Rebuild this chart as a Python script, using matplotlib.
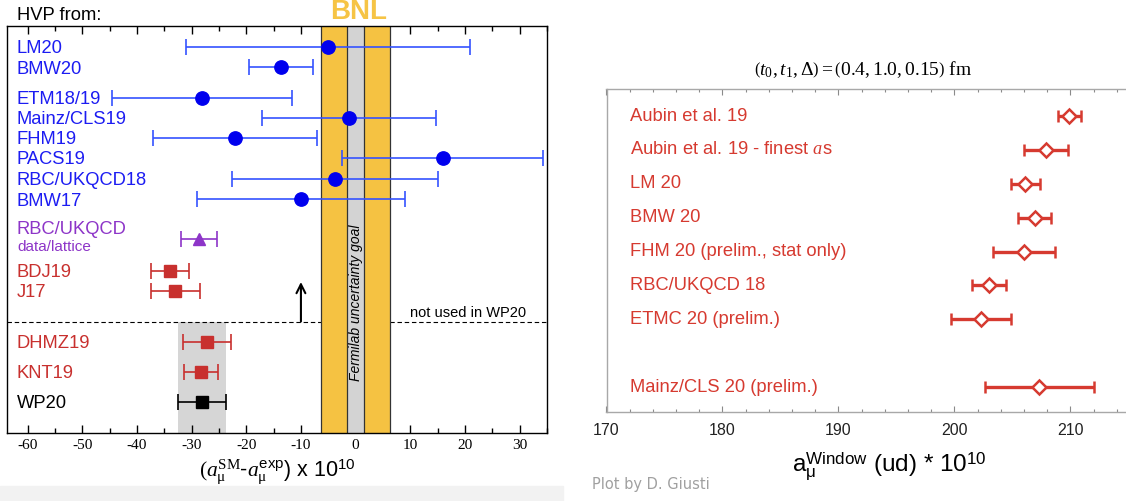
import matplotlib
matplotlib.use("Agg")
import matplotlib.pyplot as plt
from matplotlib.patches import Rectangle

plt.rcParams["font.family"] = ["Liberation Sans", "DejaVu Sans"]
plt.rcParams["mathtext.fontset"] = "custom"
plt.rcParams["mathtext.rm"] = "Liberation Serif"
plt.rcParams["mathtext.it"] = "Liberation Serif:italic"
plt.rcParams["mathtext.bf"] = "Liberation Serif:bold"
plt.rcParams["mathtext.sf"] = "Liberation Sans"
plt.rcParams["axes.unicode_minus"] = False

# ---- left panel data: (a_mu^SM - a_mu^exp) x 1e10 ----
lattice_labels = ["LM20", "BMW20", "ETM18/19", "Mainz/CLS19", "FHM19",
                  "PACS19", "RBC/UKQCD18", "BMW17"]
lattice_vals = [-5.1, -13.6, -28.1, -1.2, -22.1, 15.9, -3.8, -10.0]
lattice_errs = [26.0, 5.85, 16.4, 15.9, 15.0, 18.4, 18.8, 19.0]

hybrid_label = "RBC/UKQCD"
hybrid_sub = "data/lattice"
hybrid_val = -28.6
hybrid_err = 3.3

old_labels = ["BDJ19", "J17"]
old_vals = [-34.0, -33.0]
old_errs = [3.5, 4.5]

dr_labels = ["DHMZ19", "KNT19"]
dr_vals = [-27.1, -28.3]
dr_errs = [4.4, 3.05]

wp_label = "WP20"
wp_val = -28.1
wp_err = 4.35

bnl_err = 6.3
fnal_goal = 1.6
arrow_x = -10

# ---- right panel data: a_mu^window (ud) x 1e10 ----
window_labels = ["Aubin et al. 19", "Aubin et al. 19 - finest $a$s", "LM 20",
                 "BMW 20", "FHM 20 (prelim., stat only)", "RBC/UKQCD 18",
                 "ETMC 20 (prelim.)", "Mainz/CLS 20 (prelim.)"]
window_vals = [209.9, 207.9, 206.1, 206.9, 206.0, 203.0, 202.3, 207.3]
window_errs = [1.0, 1.9, 1.25, 1.4, 2.7, 1.45, 2.6, 4.7]

# ---- layout (pixel-ish row positions) ----
lat_rows = [46.5, 67, 97.5, 117.5, 138, 158, 178.5, 199]
hyb_row = 239
old_rows = [270.5, 290.5]
dash_row = 321.5
dr_rows = [342, 372]
wp_row = 402
win_rows = [0, 1, 2, 3, 4, 5, 6, 8]

BLUE_T = "#1c1cf2"
BLUE_M = "#0000ee"
BLUE_L = "#3553ff"
PURPLE = "#8d35c8"
RED_L = "#c8302e"
RED_R = "#d63a30"
ORANGE = "#f5c242"
GRAY = "#d3d3d3"

W, H = 1126, 501
fig = plt.figure(figsize=(W / 100, H / 100), dpi=100)


def px_axes(l, t, r, b):
    return fig.add_axes([l / W, 1 - b / H, (r - l) / W, (b - t) / H])


# ================= left panel =================
ax = px_axes(7, 25.5, 547, 432.5)
ax.set_xlim(-63.75, 35.0)
ax.set_ylim(432.5, 25.5)

ax.axhline(dash_row, color="black", lw=0.8, ls=(0, (4, 2.5)), zorder=1)
ax.axvspan(-bnl_err, bnl_err, color=ORANGE, lw=0, zorder=2)
ax.axvspan(-fnal_goal, fnal_goal, color=GRAY, lw=0, zorder=2.1)
for xv in (-bnl_err, bnl_err, -fnal_goal, fnal_goal):
    ax.axvline(xv, color="#333333", lw=0.9, zorder=2.2)
ax.fill_betweenx([dash_row, 432.5], wp_val - wp_err, wp_val + wp_err,
                 color="#d6d6d6", lw=0, zorder=0.5)

ax.text(0, 303, "Fermilab uncertainty goal", rotation=90, ha="center",
        va="center", fontsize=10, style="italic", zorder=4)

ax.errorbar(lattice_vals, lat_rows, xerr=lattice_errs, fmt="o", ms=9.6,
            color=BLUE_M, ecolor=BLUE_L, elinewidth=1.2, capsize=6, capthick=1.2,
            zorder=5)
ax.errorbar([hybrid_val], [hyb_row], xerr=[hybrid_err], fmt="^", ms=9,
            color=PURPLE, elinewidth=1.2, capsize=6, capthick=1.2, zorder=5)
ax.errorbar(old_vals, old_rows, xerr=old_errs, fmt="s", ms=8.5,
            color=RED_L, elinewidth=1.2, capsize=6, capthick=1.2, zorder=5)
ax.errorbar(dr_vals, dr_rows, xerr=dr_errs, fmt="s", ms=8.5,
            color=RED_L, elinewidth=1.2, capsize=6, capthick=1.2, zorder=5)
ax.errorbar([wp_val], [wp_row], xerr=[wp_err], fmt="s", ms=8.5,
            color="black", elinewidth=1.2, capsize=6, capthick=1.2, zorder=5)

ax.annotate("", xy=(arrow_x, 282), xytext=(arrow_x, dash_row),
            arrowprops=dict(arrowstyle="->", lw=1.5, color="black",
                            mutation_scale=16, shrinkA=0, shrinkB=0))
ax.text(9.9, dash_row - 1.5, "not used in WP20", fontsize=10.5, ha="left",
        va="bottom", zorder=4)

tx = ax.get_yaxis_transform()
lx = 10 / 540
for lab, yy in zip(lattice_labels, lat_rows):
    ax.text(lx, yy + 2, lab, transform=tx, color=BLUE_T, fontsize=13.2, va="center")
ax.text(lx, 229, hybrid_label, transform=tx, color=PURPLE, fontsize=13.2, va="center")
ax.text(lx, 247, hybrid_sub, transform=tx, color=PURPLE, fontsize=11, va="center")
for lab, yy in zip(old_labels, old_rows):
    ax.text(lx, yy + 2, lab, transform=tx, color=RED_L, fontsize=13.2, va="center")
for lab, yy in zip(dr_labels, dr_rows):
    ax.text(lx, yy + 1.5, lab, transform=tx, color=RED_L, fontsize=13.2, va="center")
ax.text(lx, wp_row + 1, wp_label, transform=tx, color="black", fontsize=13.2,
        va="center")

ax.set_xticks(range(-60, 31, 10))
ax.set_xticks(range(-60, 36, 5), minor=True)
ax.set_yticks([])
ax.tick_params(axis="x", which="both", direction="in", top=True, bottom=True,
               labelfontfamily="Liberation Serif", labelsize=11, pad=5)
ax.tick_params(axis="x", which="major", length=6, width=1)
ax.tick_params(axis="x", which="minor", length=3.5, width=1)
for sp in ax.spines.values():
    sp.set_linewidth(1)

# ================= right panel =================
ax2 = px_axes(606.5, 89, 606.5 + 45 * 11.6, 411.5)
ax2.set_xlim(170, 215)
ax2.set_ylim(8.72, -0.8)
ax2.errorbar(window_vals, win_rows, xerr=window_errs, fmt="D", ms=7.5,
             mfc="white", mec=RED_R, mew=1.8, color=RED_R, elinewidth=2.4,
             capsize=4.5, capthick=2.4, zorder=3)
tx2 = ax2.get_yaxis_transform()
for lab, yy in zip(window_labels, win_rows):
    ax2.text(23.5 / 522, yy, lab, transform=tx2, color=RED_R, fontsize=13.2,
             va="center")

ax2.set_xticks(range(170, 211, 10))
ax2.set_xticks(range(170, 216, 2), minor=True)
ax2.set_yticks([])
ax2.tick_params(axis="x", which="both", direction="in", top=True, bottom=True,
                color="#8a8a8a", labelsize=11.5, labelcolor="#222222", pad=8)
ax2.tick_params(axis="x", which="major", length=4, width=0.8)
ax2.tick_params(axis="x", which="minor", length=2.5, width=0.8)
ax2.spines["right"].set_visible(False)
for side in ("left", "top", "bottom"):
    ax2.spines[side].set_color("#a8a8a8")
    ax2.spines[side].set_linewidth(1)

# ================= figure texts =================
fig.patches.append(Rectangle((0, 0), 563 / W, 15 / H, transform=fig.transFigure,
                             color="#f2f2f2", zorder=-1))
fig.text(17 / W, 1 - 16 / H, "HVP from:", fontsize=13.2, va="center")
fig.text(359 / W, 1 - 12 / H, "BNL", fontsize=20, fontweight="bold",
         color="#f6c445", ha="center", va="center")
fig.text(277 / W, 1 - 472 / H,
         r"$(a_{\mathrm{\mu}}^{\mathrm{SM}}$-$a_{\mathrm{\mu}}^{\mathsf{exp}}$) x 10$^{\mathsf{10}}$",
         fontsize=15.5, ha="center", va="center")
fig.text(863 / W, 1 - 70 / H,
         r"$\left(t_0,t_1,\Delta\right)=\left(0.4,1.0,0.15\right)$ fm",
         fontsize=14, ha="center", va="center", family="Liberation Serif")
fig.text(889 / W, 1 - 466 / H,
         r"a$_{\mathsf{\mu}}^{\mathsf{Window}}$ (ud) * 10$^{\mathsf{10}}$",
         fontsize=17.5, ha="center", va="center")
fig.text(592 / W, 1 - 484 / H, "Plot by D. Giusti", fontsize=10.5,
         color="#a0a0a0", va="center", family="DejaVu Sans")

fig.savefig("out.png", dpi=100)
